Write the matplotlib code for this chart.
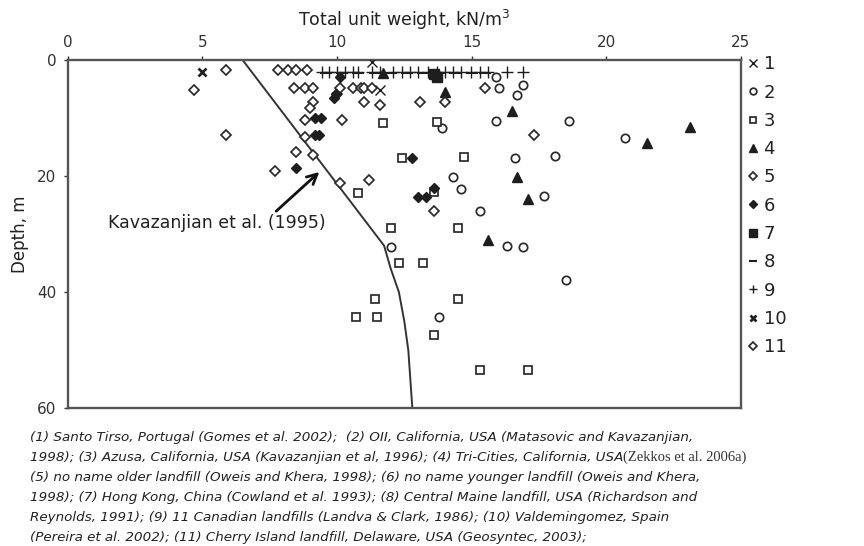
import matplotlib
matplotlib.use("Agg")
import matplotlib.pyplot as plt

# ---- data: total unit weight (kN/m3) vs depth (m) ----
s1_w = [11.3, 11.6]
s1_d = [0.3, 5.2]

s2_w = [15.9, 16.0, 16.9, 16.7, 15.9, 13.9, 18.6, 20.7, 16.6, 18.1, 14.3, 14.6,
        17.7, 15.3, 16.3, 16.9, 18.5, 12.0, 13.8]
s2_d = [2.9, 4.8, 4.3, 6.0, 10.5, 11.7, 10.5, 13.5, 16.9, 16.6, 20.1, 22.3,
        23.4, 26.0, 32.1, 32.3, 38.0, 32.2, 44.3]

s3_w = [11.7, 13.7, 12.4, 14.7, 10.8, 13.6, 12.0, 14.5, 12.3, 13.2, 11.4, 10.7,
        11.5, 14.5, 13.6, 15.3, 17.1]
s3_d = [10.9, 10.7, 16.9, 16.7, 22.9, 22.7, 29.0, 29.0, 35.0, 35.0, 41.2, 44.3,
        44.3, 41.2, 47.4, 53.4, 53.4]

s4_w = [11.7, 14.0, 16.5, 16.7, 17.1, 15.6, 21.5, 23.1]
s4_d = [2.3, 5.5, 8.8, 20.2, 24.0, 31.0, 14.3, 11.5]

s5_w = [4.7, 8.4, 8.8, 9.1, 10.0, 9.1, 9.0, 8.8, 10.2, 5.9, 8.8, 8.5, 9.1,
        10.6, 10.9, 11.0, 11.3, 11.0, 11.6, 13.1, 14.0, 15.5, 17.3, 7.7, 10.1,
        11.2, 13.6, 10.1]
s5_d = [5.2, 4.8, 4.8, 4.8, 5.9, 7.2, 8.3, 10.3, 10.3, 12.9, 13.3, 15.9, 16.4,
        4.8, 4.8, 4.8, 4.8, 7.2, 7.8, 7.2, 7.2, 4.8, 12.9, 19.1, 21.2,
        20.7, 26.0, 4.8]

s6_w = [10.1, 9.9, 9.95, 9.2, 9.4, 9.2, 9.35, 8.5, 12.8, 13.0, 13.3, 13.6]
s6_d = [2.9, 6.6, 5.8, 10.0, 10.0, 12.9, 12.9, 18.6, 16.9, 23.6, 23.6, 22.1]

s7_w = [13.7, 13.6]
s7_d = [2.9, 2.4]

s8_w = [9.6, 10.2, 10.8, 11.4, 12.0, 12.6, 13.2, 13.8, 14.4, 15.0, 15.5]
s8_d = [2.2, 2.2, 2.2, 2.2, 2.2, 2.2, 2.2, 2.2, 2.2, 2.2, 2.2]

s9_w = [9.46, 9.7, 10.0, 10.3, 10.6, 10.8, 11.3, 11.6, 12.1, 12.4, 12.7, 13.0,
        13.4, 13.7, 14.0, 14.3, 14.6, 14.96, 15.3, 15.6, 16.3, 16.9]
s9_d = [2.0] * 22

s10_w = [5.0]
s10_d = [2.1]

s11_w = [5.9, 7.8, 8.2, 8.5, 8.9]
s11_d = [1.7, 1.7, 1.7, 1.7, 1.7]

# Kavazanjian et al. (1995) unit weight profile
kav_w = [6.5, 11.75, 12.0, 12.3, 12.5, 12.65, 12.8]
kav_d = [0, 32, 36, 40, 45, 50, 60]

legend_labels = ["1", "2", "3", "4", "5", "6", "7", "8", "9", "10", "11"]

caption_lines = [
    "(1) Santo Tirso, Portugal (Gomes et al. 2002);  (2) OII, California, USA (Matasovic and Kavazanjian,",
    "1998); (3) Azusa, California, USA (Kavazanjian et al, 1996); (4) Tri-Cities, California, USA",
    "(5) no name older landfill (Oweis and Khera, 1998); (6) no name younger landfill (Oweis and Khera,",
    "1998); (7) Hong Kong, China (Cowland et al. 1993); (8) Central Maine landfill, USA (Richardson and",
    "Reynolds, 1991); (9) 11 Canadian landfills (Landva & Clark, 1986); (10) Valdemingomez, Spain",
    "(Pereira et al. 2002); (11) Cherry Island landfill, Delaware, USA (Geosyntec, 2003);",
]
caption_tail = "(Zekkos et al. 2006a)"

# ---- figure ----
plt.rcParams["font.family"] = ["DejaVu Sans"]
fig = plt.figure(figsize=(8.64, 5.46), dpi=100)
ax = fig.add_axes([67.5 / 864, 1 - 408 / 546, (741 - 67.5) / 864, (408 - 60) / 546])

ink = "#1e1e1e"
hollow = dict(linestyle="none", markerfacecolor="white", markeredgecolor="#2a2a2a",
              markeredgewidth=1.25)

styles = [
    dict(marker="x", markersize=7, color=ink, markeredgewidth=1.0, linestyle="none"),
    dict(marker="o", markersize=6, **hollow),
    dict(marker="s", markersize=5.8, **hollow),
    dict(marker="^", markersize=7, color=ink, linestyle="none"),
    dict(marker="D", markersize=5.5, **hollow),
    dict(marker="D", markersize=5.5, color=ink, linestyle="none"),
    dict(marker="s", markersize=7, color=ink, linestyle="none"),
    dict(marker="_", markersize=8, color=ink, markeredgewidth=1.5, linestyle="none"),
    dict(marker="+", markersize=8, color=ink, markeredgewidth=1.0, linestyle="none"),
    dict(marker="x", markersize=6, color=ink, markeredgewidth=1.9, linestyle="none"),
    dict(marker="D", markersize=5.5, **hollow),
]

series = [(s1_w, s1_d), (s2_w, s2_d), (s3_w, s3_d), (s4_w, s4_d), (s5_w, s5_d),
          (s6_w, s6_d), (s7_w, s7_d), (s8_w, s8_d), (s9_w, s9_d),
          (s10_w, s10_d), (s11_w, s11_d)]

handles = []
for (w, d), st, lab in zip(series, styles, legend_labels):
    h, = ax.plot(w, d, label=lab, zorder=3, **st)
    handles.append(h)

ax.plot(kav_w, kav_d, color="#333333", linewidth=1.4, zorder=2)

ax.set_xlim(0, 25)
ax.set_ylim(60, 0)
ax.xaxis.tick_top()
ax.xaxis.set_label_position("top")
ax.set_xticks([0, 5, 10, 15, 20, 25])
ax.set_yticks([0, 20, 40, 60])
ax.tick_params(axis="both", labelsize=11, colors="#333333", length=3, width=1)
ax.tick_params(axis="x", pad=4)
ax.tick_params(axis="y", pad=5)
ax.set_xlabel("Total unit weight, kN/m$^3$", fontsize=12.5, color="#222222", labelpad=7)
ax.set_ylabel("Depth, m", fontsize=12, color="#222222", labelpad=6)
for sp in ax.spines.values():
    sp.set_color("#555555")
    sp.set_linewidth(1.7)

ax.annotate("Kavazanjian et al. (1995)", xy=(9.35, 19.3), xytext=(1.5, 28.1),
            fontsize=12.5, color="#222222", va="center", ha="left",
            arrowprops=dict(arrowstyle="->", color="#111111", lw=2.0,
                            shrinkA=0, shrinkB=0, mutation_scale=18,
                            relpos=(0.75, 0.9)))

leg = fig.legend(handles=handles, labels=legend_labels, loc="upper left",
                 bbox_to_anchor=(731 / 864, 1 - 39 / 546), frameon=False,
                 fontsize=13, handlelength=0.6, handletextpad=0.3,
                 labelspacing=0.57, markerscale=0.8)
for t in leg.get_texts():
    t.set_color("#222222")

# caption
cap_y0 = 437
for i, line in enumerate(caption_lines):
    t = fig.text(30 / 864, 1 - (cap_y0 + 20.2 * i) / 546, line, fontsize=9.7,
                 style="italic", color="#222222", va="center", ha="left")
    if i == 1:
        fig.canvas.draw()
        bb = t.get_window_extent()
        fig.text(bb.x1 / 864, 1 - (cap_y0 + 20.2 * i) / 546, caption_tail,
                 fontsize=10.5, family="Liberation Serif", color="#333333",
                 va="center", ha="left")

fig.savefig("out.png", dpi=100)
